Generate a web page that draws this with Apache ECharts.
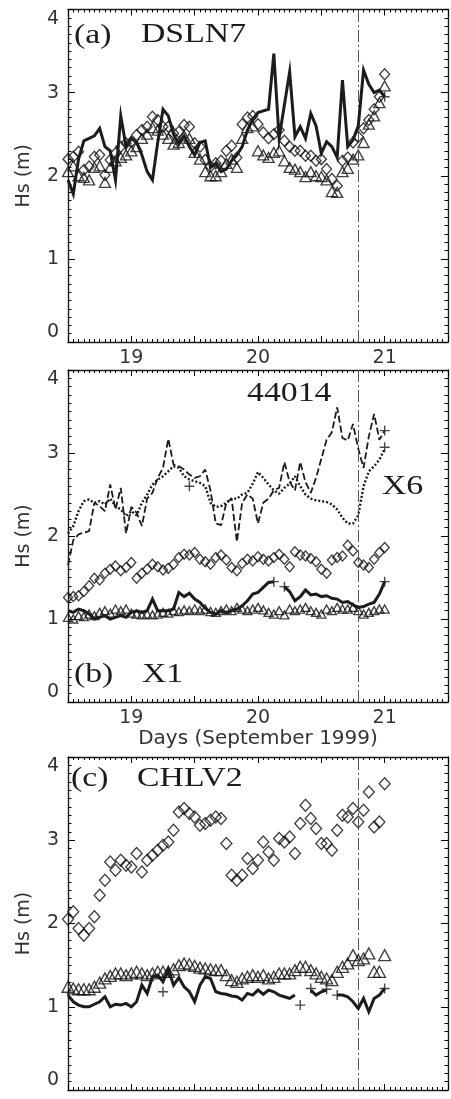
<!DOCTYPE html>
<html>
<head>
<meta charset="utf-8">
<script src="https://cdn.jsdelivr.net/npm/echarts@6/dist/echarts.min.js"></script>
<style>
  html, body { margin: 0; padding: 0; background: #fff; }
  #chart { width: 451px; height: 1099px; }
</style>
</head>
<body>
<div id="chart"></div>
<script>
// hourly samples, first one at day 18.5 (September 1999)
const DAY0 = 18.5;
const MARK_DAY = 20.79;
const xTicks = { min: 18.5, max: 21.5, step: 0.5 };
const yTicks = { min: 0, max: 4, step: 1 };

// (a) DSLN7
const aObs = [1.95, 1.78, 2.20, 2.42, 2.45, 2.48, 2.57, 2.35, 2.30, 1.95, 2.72, 2.35, 2.45, 2.40, 2.25, 2.05, 1.95, 2.40, 2.80, 2.72,
  2.50, 2.38, 2.48, 2.35, 2.25, 2.40, 2.42, 2.10, 2.15, 2.05, 2.08, 2.18, 2.25, 2.35, 2.55, 2.68, 2.76, 2.78, 2.80, 3.47,
  2.45, 2.85, 3.25, 2.47, 2.59, 2.45, 2.75, 2.60, 2.27, 2.41, 2.35, 2.22, 3.15, 2.35, 2.43, 2.60, 3.27, 3.10, 3.00, 3.03, 2.95];
const aDiamond = [2.20, 2.23, 2.29, 2.07, 2.11, 2.23, 2.25, 2.01, 2.19, 2.27, 2.35, 2.39, 2.41, 2.49, 2.55, 2.59, 2.71, 2.67, 2.59, 2.59,
  2.51, 2.53, 2.61, 2.59, 2.39, 2.35, 2.19, 2.11, 2.15, 2.18, 2.30, 2.36, 2.22, 2.62, 2.70, 2.72, 2.62, 2.52, 2.45, 2.50,
  2.55, 2.42, 2.35, 2.30, 2.30, 2.24, 2.24, 2.18, 2.20, 2.08, 1.96, 1.88, 2.18, 2.22, 2.40, 2.47, 2.57, 2.67, 2.80, 2.95, 3.22];
const aTriangle = [2.05, 2.12, 2.00, 1.98, 1.95, 2.10, 2.12, 1.92, 2.10, 2.18, 2.22, 2.25, 2.30, 2.35, 2.45, 2.50, 2.58, 2.55, 2.50, 2.45,
  2.38, 2.40, 2.48, 2.45, 2.28, 2.20, 2.05, 2.00, 2.00, 2.05, 2.15, 2.20, 2.10, 2.45, 2.58, 2.60, 2.30, 2.25, 2.22, 2.28,
  2.30, 2.18, 2.10, 2.08, 2.05, 1.99, 2.05, 2.00, 1.99, 1.95, 1.81, 1.80, 2.05, 2.09, 2.20, 2.25, 2.40, 2.62, 2.72, 2.88, 3.08];
const aPlus = [[60, 2.95]]; // [hour, Hs]

// (b) X1 / 44014 / X6
const bDashed = [1.65, 1.95, 2.02, 2.04, 2.06, 2.40, 2.36, 2.30, 2.62, 2.32, 2.58, 2.03, 2.35, 2.28, 2.12, 2.45, 2.52, 2.70, 2.82, 3.17,
  2.86, 2.84, 2.80, 2.74, 2.70, 2.72, 2.80, 2.55, 2.15, 2.13, 2.40, 2.45, 1.93, 2.40, 2.50, 2.45, 2.15, 2.40, 2.45, 2.55,
  2.58, 2.89, 2.65, 2.55, 2.89, 2.65, 2.52, 2.70, 2.93, 3.16, 3.25, 3.55, 3.18, 3.15, 3.35, 3.05, 2.82, 3.20, 3.47, 3.16, 3.27];
const bDotted = [2.03, 2.12, 2.30, 2.42, 2.44, 2.40, 2.42, 2.38, 2.45, 2.36, 2.32, 2.24, 2.30, 2.25, 2.40, 2.50, 2.62, 2.68, 2.72, 2.78,
  2.84, 2.82, 2.72, 2.68, 2.66, 2.64, 2.60, 2.40, 2.35, 2.36, 2.40, 2.45, 2.45, 2.50, 2.52, 2.63, 2.77, 2.70, 2.62, 2.55,
  2.51, 2.58, 2.63, 2.72, 2.60, 2.50, 2.45, 2.43, 2.42, 2.41, 2.38, 2.32, 2.22, 2.15, 2.15, 2.25, 2.60, 2.78, 2.84, 2.92, 3.05];
const bObs = [1.10, 1.08, 1.12, 1.10, 1.06, 1.00, 1.02, 1.04, 1.00, 1.02, 1.04, 1.02, 1.08, 1.10, 1.08, 1.10, 1.24, 1.10, 1.10, 1.10,
  1.12, 1.32, 1.27, 1.31, 1.24, 1.20, 1.13, 1.08, 1.06, 1.10, 1.08, 1.10, 1.12, 1.16, 1.22, 1.30, 1.32, 1.38, 1.44, 1.45,
  null, 1.39, 1.33, 1.22, 1.27, 1.35, 1.29, 1.30, 1.27, 1.28, 1.25, 1.24, 1.20, 1.21, 1.17, 1.14, 1.15, 1.18, 1.20, 1.30, 1.45];
const bDiamond = [1.26, 1.27, 1.28, 1.33, 1.40, 1.49, 1.47, 1.55, 1.60, 1.64, 1.58, 1.62, 1.68, 1.49, 1.55, 1.60, 1.66, 1.63, 1.59, 1.61,
  1.66, 1.74, 1.78, 1.77, 1.80, 1.72, 1.69, 1.66, 1.74, 1.77, 1.71, 1.62, 1.58, 1.67, 1.72, 1.70, 1.75, 1.72, 1.70, 1.74,
  1.78, 1.72, 1.63, 1.81, 1.77, 1.76, 1.73, 1.69, 1.60, 1.55, 1.71, 1.74, 1.76, 1.89, 1.82, 1.68, 1.65, 1.62, 1.72, 1.80, 1.86];
const bTriangle = [1.02, 1.00, 1.04, 1.03, 1.06, 1.04, 1.08, 1.10, 1.07, 1.12, 1.10, 1.12, 1.07, 1.06, 1.05, 1.06, 1.05, 1.06, 1.08, 1.07,
  1.10, 1.09, 1.11, 1.10, 1.12, 1.10, 1.12, 1.09, 1.08, 1.10, 1.12, 1.10, 1.14, 1.12, 1.10, 1.12, 1.14, 1.11, 1.08, 1.06,
  1.10, 1.05, 1.12, 1.10, 1.12, 1.14, 1.10, 1.08, 1.06, 1.12, 1.10, 1.14, 1.12, 1.12, 1.14, 1.10, 1.06, 1.08, 1.10, 1.12, 1.12];
const bPlus = [[23, 2.60], [39, 1.45], [41, 1.39], [60, 3.27], [60, 3.07], [60, 1.45]];

// (c) CHLV2
const cObs = [1.14, 1.06, 1.02, 1.00, 1.00, 1.03, 1.06, 1.12, 1.00, 1.03, 1.02, 1.04, 1.00, 1.06, 1.26, 1.16, 1.36, 1.38, 1.30, 1.45,
  1.26, 1.35, 1.24, 1.18, 1.06, 1.26, 1.36, 1.34, 1.18, 1.16, 1.15, 1.13, 1.12, 1.08, 1.16, 1.14, 1.20, 1.15, 1.20, 1.18,
  1.14, 1.12, 1.10, 1.14, null, null, 1.20, 1.14, 1.18, 1.20, null, 1.14, 1.14, 1.12, 1.06, 0.98, 1.10, 0.94, 1.10, 1.14, 1.22];
const cDiamond = [2.05, 2.14, 1.94, 1.86, 1.94, 2.08, 2.34, 2.52, 2.74, 2.64, 2.76, 2.70, 2.68, 2.84, 2.62, 2.76, 2.82, 2.88, 2.94, 2.98,
  3.12, 3.34, 3.38, 3.32, 3.28, 3.18, 3.20, 3.24, 3.28, 3.26, 2.96, 2.58, 2.52, 2.58, 2.78, 2.66, 2.76, 2.98, 2.86, 2.76,
  3.02, 2.98, 3.04, 2.84, 3.20, 3.42, 3.26, 3.14, 2.96, 2.96, 2.88, 3.12, 3.30, 3.28, 3.38, 3.22, 3.36, 3.58, 3.16, 3.22, 3.68];
const cTriangle = [1.24, 1.22, 1.21, 1.21, 1.21, 1.24, 1.29, 1.34, 1.37, 1.40, 1.40, 1.38, 1.40, 1.42, 1.40, 1.38, 1.40, 1.42, 1.42, 1.42,
  1.45, 1.50, 1.52, 1.51, 1.49, 1.47, 1.46, 1.45, 1.44, 1.44, 1.38, 1.32, 1.30, 1.34, 1.36, 1.38, 1.36, 1.38, 1.34, 1.36,
  1.40, 1.40, 1.40, 1.44, 1.48, 1.48, 1.44, 1.40, 1.36, 1.34, 1.32, 1.42, 1.48, 1.52, 1.62, 1.56, 1.58, 1.64, 1.42, 1.42, 1.62];
const cPlus = [[18, 1.18], [44, 1.02], [46, 1.22], [49, 1.21], [51, 1.14], [60, 1.22]];

const panelTitles = [
  [{ text: '(a)', x: 74, y: 36 }, { text: 'DSLN7', x: 141, y: 35 }],
  [{ text: '44014', x: 247, y: 394 }, { text: 'X6', x: 382, y: 487 }, { text: '(b)', x: 74, y: 675 }, { text: 'X1', x: 142, y: 675 }],
  [{ text: '(c)', x: 71, y: 779 }, { text: 'CHLV2', x: 137, y: 779 }]
];

const INK = '#1c1c1c';
const SANS = 'DejaVu Sans';

const hourly = arr => arr.map((v, i) => [DAY0 + i / 24, v == null ? '-' : v]);
const atHours = arr => arr.map(([h, v]) => [DAY0 + h / 24, v]);

const grids = [
  { left: 68, width: 380, top: 9.5, height: 332.5, outerBoundsMode: 'none' },
  { left: 68, width: 380, top: 370, height: 332, outerBoundsMode: 'none' },
  { left: 68, width: 380, top: 757, height: 333, outerBoundsMode: 'none' }
];

const lineStyleBox = { color: INK, width: 1.4 };
const labelFont = { color: '#333', fontSize: 19, fontFamily: SANS };

const xAxis = [];
const yAxis = [];
grids.forEach((g, gi) => {
  ['bottom', 'top'].forEach(pos => {
    xAxis.push({
      type: 'value', gridIndex: gi, position: pos,
      min: xTicks.min, max: xTicks.max, interval: xTicks.step,
      axisLine: { show: true, onZero: false, lineStyle: lineStyleBox },
      axisTick: { show: true, inside: true, length: 6, lineStyle: { color: '#000', width: 1 } },
      minorTick: { show: true, splitNumber: 12, length: 3, lineStyle: { color: '#000', width: 1 } },
      splitLine: { show: false },
      axisLabel: {
        // the lowest panel's day labels fall below the picture
        show: pos === 'bottom' && gi < 2, margin: 7, ...labelFont,
        formatter: v => Number.isInteger(v) ? String(v) : ''
      },
      name: pos === 'bottom' && gi === 1 ? 'Days (September 1999)' : '',
      nameLocation: 'middle', nameGap: 24,
      nameTextStyle: { color: '#333', fontSize: 20, fontFamily: SANS }
    });
  });
  ['left', 'right'].forEach(pos => {
    yAxis.push({
      type: 'value', gridIndex: gi, position: pos,
      min: yTicks.min, max: yTicks.max, interval: yTicks.step,
      axisLine: { show: true, onZero: false, lineStyle: lineStyleBox },
      axisTick: { show: true, inside: true, length: 7, lineStyle: { color: '#000', width: 1 } },
      minorTick: { show: true, splitNumber: 10, length: 3.5, lineStyle: { color: '#000', width: 1 } },
      splitLine: { show: false },
      axisLabel: {
        show: pos === 'left', margin: 9, ...labelFont,
        verticalAlignMinLabel: 'bottom', verticalAlignMaxLabel: 'top'
      },
      name: pos === 'left' ? 'Hs (m)' : '',
      nameLocation: 'middle', nameGap: 34,
      nameTextStyle: { color: '#333', fontSize: 19, fontFamily: SANS }
    });
  });
});

const markLine = {
  silent: true, symbol: ['none', 'none'], label: { show: false },
  lineStyle: { color: '#555', width: 1, type: [12, 3, 2, 3] },
  data: [{ xAxis: MARK_DAY }]
};

function solid(gi, arr) {
  return {
    type: 'line', xAxisIndex: gi * 2, yAxisIndex: gi * 2, data: hourly(arr),
    showSymbol: false, z: 5, connectNulls: false,
    lineStyle: { color: INK, width: 3, join: 'miter' },
    markLine
  };
}
function styledLine(gi, arr, type, width) {
  return {
    type: 'line', xAxisIndex: gi * 2, yAxisIndex: gi * 2, data: hourly(arr),
    showSymbol: false, z: 4,
    lineStyle: { color: INK, width, type }
  };
}
function markers(gi, arr, symbol, size) {
  return {
    type: 'scatter', xAxisIndex: gi * 2, yAxisIndex: gi * 2, data: hourly(arr),
    symbol, symbolSize: size, z: 3,
    itemStyle: { color: 'rgba(0,0,0,0)', borderColor: '#111', borderWidth: 1.35 }
  };
}
function plus(gi, arr) {
  return {
    type: 'scatter', xAxisIndex: gi * 2, yAxisIndex: gi * 2, data: atHours(arr),
    symbol: 'path://M0,5L10,5M5,0L5,10', symbolSize: 10, z: 6,
    itemStyle: { color: 'rgba(0,0,0,0)', borderColor: INK, borderWidth: 1.4 }
  };
}

const series = [
  markers(0, aDiamond, 'diamond', [10, 11]),
  markers(0, aTriangle, 'triangle', [11, 10]),
  solid(0, aObs),
  plus(0, aPlus),

  styledLine(1, bDashed, [7, 3], 1.8),
  styledLine(1, bDotted, [2, 2], 2.4),
  markers(1, bDiamond, 'diamond', [9, 10]),
  markers(1, bTriangle, 'triangle', [9, 8]),
  solid(1, bObs),
  plus(1, bPlus),

  markers(2, cDiamond, 'diamond', [11, 12]),
  markers(2, cTriangle, 'triangle', [12, 11]),
  solid(2, cObs),
  plus(2, cPlus)
];

const graphic = panelTitles.flat().map(t => ({
  type: 'text', x: t.x, y: t.y, scaleX: 1.25, z: 10,
  style: {
    text: t.text, fill: INK, fontSize: 27, fontFamily: 'Liberation Serif',
    verticalAlign: 'middle', align: 'left'
  }
}));

const chart = echarts.init(document.getElementById('chart'), null, { renderer: 'canvas' });
chart.setOption({
  animation: false,
  backgroundColor: '#fff',
  grid: grids,
  xAxis, yAxis, series, graphic
});
</script>
</body>
</html>
